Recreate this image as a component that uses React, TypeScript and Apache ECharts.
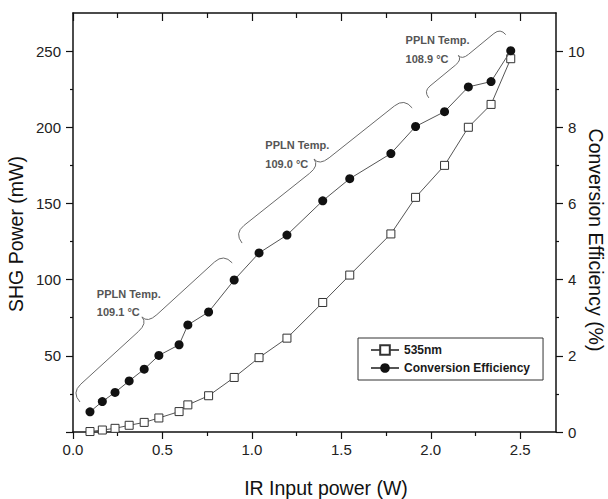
import React, { useEffect, useRef } from 'react';
import * as echarts from 'echarts';

// ---- data ----
const irPower = [0.095, 0.164, 0.235, 0.314, 0.398, 0.48, 0.593, 0.642, 0.758, 0.901, 1.04, 1.196, 1.396, 1.547, 1.777, 1.915, 2.077, 2.21, 2.337, 2.447];
const shgPower = [0.3, 1.3, 2.4, 4.4, 6.3, 9.2, 13.4, 17.8, 23.8, 35.8, 48.8, 61.6, 85, 103, 130, 154, 175, 200, 215, 245];
const efficiency = [0.53, 0.8, 1.04, 1.34, 1.65, 2.01, 2.29, 2.81, 3.15, 3.99, 4.7, 5.17, 6.07, 6.65, 7.31, 8.02, 8.41, 9.06, 9.2, 10.01];

const xMajor = [0, 0.5, 1, 1.5, 2, 2.5];
const xMinor = [0.25, 0.75, 1.25, 1.75, 2.25];
const yLeftMajor = [0, 50, 100, 150, 200, 250];
const yLeftLabels = [50, 100, 150, 200, 250];
const yLeftMinor = [25, 75, 125, 175, 225];
const yRightMajor = [0, 2, 4, 6, 8, 10];
const yRightMinor = [1, 3, 5, 7, 9];

const seriesNames = ['535nm', 'Conversion Efficiency'];
const tempValues = ['109.1', '109.0', '108.9'];
// brace ends and label anchors in data units (W, mW)
const braceStart = [[0.039, 19.7], [0.945, 124.0], [1.989, 219.3]];
const braceEnd = [[0.89, 111.0], [1.896, 212.7], [2.419, 260.8]];
const braceDepth = [21, 21, 14];
const labelAnchor = [[0.133, 90.7], [1.075, 188.1], [1.859, 257.1]];

const FONT = 'Arial, "Liberation Sans", Helvetica, sans-serif';
const AXIS_COLOR = '#111';

function xAxisDef(position: 'top' | 'bottom', major: boolean) {
  const inside = position === 'top';
  return {
    type: 'value',
    position,
    min: 0,
    max: 2.7,
    axisLine: { show: major, onZero: false, lineStyle: { color: AXIS_COLOR, width: 1.5 } },
    axisTick: {
      show: true,
      inside,
      length: major ? (inside ? 8 : 7) : (inside ? 5 : 4),
      customValues: major ? xMajor : xMinor,
      lineStyle: { color: AXIS_COLOR, width: 1.2 },
    },
    axisLabel: {
      show: major && !inside,
      customValues: xMajor,
      margin: 10,
      fontSize: 15,
      fontFamily: FONT,
      color: '#222',
      formatter: (v: number) => v.toFixed(1),
    },
    splitLine: { show: false },
  };
}

function yAxisDef(position: 'left' | 'right', max: number, ticks: number[], labels: number[] | null, len: number) {
  return {
    type: 'value',
    position,
    min: 0,
    max,
    axisLine: { show: labels !== null, onZero: false, lineStyle: { color: AXIS_COLOR, width: 1.5 } },
    axisTick: { show: true, inside: false, length: len, customValues: ticks, lineStyle: { color: AXIS_COLOR, width: 1.2 } },
    axisLabel: {
      show: labels !== null,
      customValues: labels || [],
      margin: 12,
      fontSize: 15,
      fontFamily: FONT,
      color: '#222',
    },
    splitLine: { show: false },
  };
}

function bracePieces(a: number[], b: number[], w: number) {
  const h = w * 0.6;
  const r = w * 0.6;
  const dx = b[0] - a[0];
  const dy = b[1] - a[1];
  const L = Math.sqrt(dx * dx + dy * dy);
  const tx = dx / L, ty = dy / L;
  const nx = ty, ny = -tx; // toward upper-left
  const m = [(a[0] + b[0]) / 2, (a[1] + b[1]) / 2];
  const p = (base: number[], n: number, t: number) => [base[0] + nx * n + tx * t, base[1] + ny * n + ty * t];
  const P0 = a, C0 = p(a, h, 0), P1 = p(a, h, r);
  const P2 = p(m, h, -r), C1 = p(m, h, 0), P3 = p(m, w, 0), P4 = p(m, h, r);
  const P5 = p(b, h, -r), C2 = p(b, h, 0), P6 = b;
  const style = { stroke: '#6a6a6a', lineWidth: 1, fill: null };
  const q = (s: number[], c: number[], e: number[]) => ({
    type: 'bezierCurve', silent: true,
    shape: { x1: s[0], y1: s[1], x2: e[0], y2: e[1], cpx1: c[0], cpy1: c[1] },
    style,
  });
  const l = (s: number[], e: number[]) => ({
    type: 'line', silent: true,
    shape: { x1: s[0], y1: s[1], x2: e[0], y2: e[1] },
    style,
  });
  return [q(P0, C0, P1), l(P1, P2), q(P2, C1, P3), q(P3, C1, P4), l(P4, P5), q(P5, C2, P6)];
}

export default function App() {
  const ref = useRef<HTMLDivElement>(null);
  useEffect(() => {
    if (!ref.current) return;
    const chart = echarts.init(ref.current, null, { renderer: 'svg' });
    const option: any = {
      animation: false,
      backgroundColor: '#fff',
      grid: { left: 73, right: 52, top: 13, bottom: 67, containLabel: false },
      legend: {
        data: seriesNames,
        orient: 'vertical',
        left: 358,
        top: 338,
        padding: [6, 13, 6, 12],
        itemGap: 6,
        itemWidth: 28,
        itemHeight: 12,
        borderColor: '#333',
        borderWidth: 1,
        textStyle: { fontFamily: FONT, fontSize: 12, fontWeight: 'bold', color: '#1a1a1a' },
      },
      xAxis: [xAxisDef('bottom', true), xAxisDef('bottom', false), xAxisDef('top', true), xAxisDef('top', false)],
      yAxis: [
        yAxisDef('left', 275, yLeftMajor, yLeftLabels, 7),
        yAxisDef('left', 275, yLeftMinor, null, 3),
        yAxisDef('right', 11, yRightMajor, yRightMajor, 7),
        yAxisDef('right', 11, yRightMinor, null, 3),
      ],
      series: [
        {
          name: seriesNames[0],
          type: 'line',
          xAxisIndex: 0,
          yAxisIndex: 0,
          data: irPower.map((x, i) => [x, shgPower[i]]),
          symbol: 'rect',
          symbolSize: 8,
          itemStyle: { color: '#fff', borderColor: '#333', borderWidth: 1 },
          lineStyle: { color: '#555', width: 1 },
          z: 2,
        },
        {
          name: seriesNames[1],
          type: 'line',
          xAxisIndex: 0,
          yAxisIndex: 2,
          data: irPower.map((x, i) => [x, efficiency[i]]),
          symbol: 'circle',
          symbolSize: 9,
          itemStyle: { color: '#111' },
          lineStyle: { color: '#555', width: 1 },
          z: 3,
        },
      ],
    };
    chart.setOption(option);

    const toPx = (v: number[]) => chart.convertToPixel({ xAxisIndex: 0, yAxisIndex: 0 }, v) as number[];
    const graphics: any[] = [];
    braceStart.forEach((s, i) => {
      graphics.push(...bracePieces(toPx(s), toPx(braceEnd[i]), braceDepth[i]));
      const anchor = toPx(labelAnchor[i]);
      const ts = { fontFamily: FONT, fontSize: 11, fontWeight: 'bold', fill: '#555' };
      graphics.push({ type: 'text', x: anchor[0], y: anchor[1], style: { ...ts, text: 'PPLN Temp.', verticalAlign: 'middle', align: 'left' } });
      graphics.push({ type: 'text', x: anchor[0], y: anchor[1] + 18.5, style: { ...ts, text: tempValues[i] + ' °C', verticalAlign: 'middle', align: 'left' } });
    });
    const nameStyle = { fontFamily: FONT, fontSize: 19.5, fill: '#111', align: 'center', verticalAlign: 'middle' };
    graphics.push({ type: 'text', x: 16, y: 234, rotation: Math.PI / 2, style: { ...nameStyle, text: 'SHG Power (mW)' } });
    graphics.push({ type: 'text', x: 596, y: 240, rotation: -Math.PI / 2, style: { ...nameStyle, text: 'Conversion Efficiency (%)' } });
    graphics.push({ type: 'text', x: 326, y: 488, style: { ...nameStyle, text: 'IR Input power (W)' } });
    chart.setOption({ graphic: graphics });

    return () => chart.dispose();
  }, []);
  return (
    <div
      ref={ref}
      style={{ position: 'fixed', left: 0, top: 0, width: 608, height: 499, background: '#fff' }}
    />
  );
}
